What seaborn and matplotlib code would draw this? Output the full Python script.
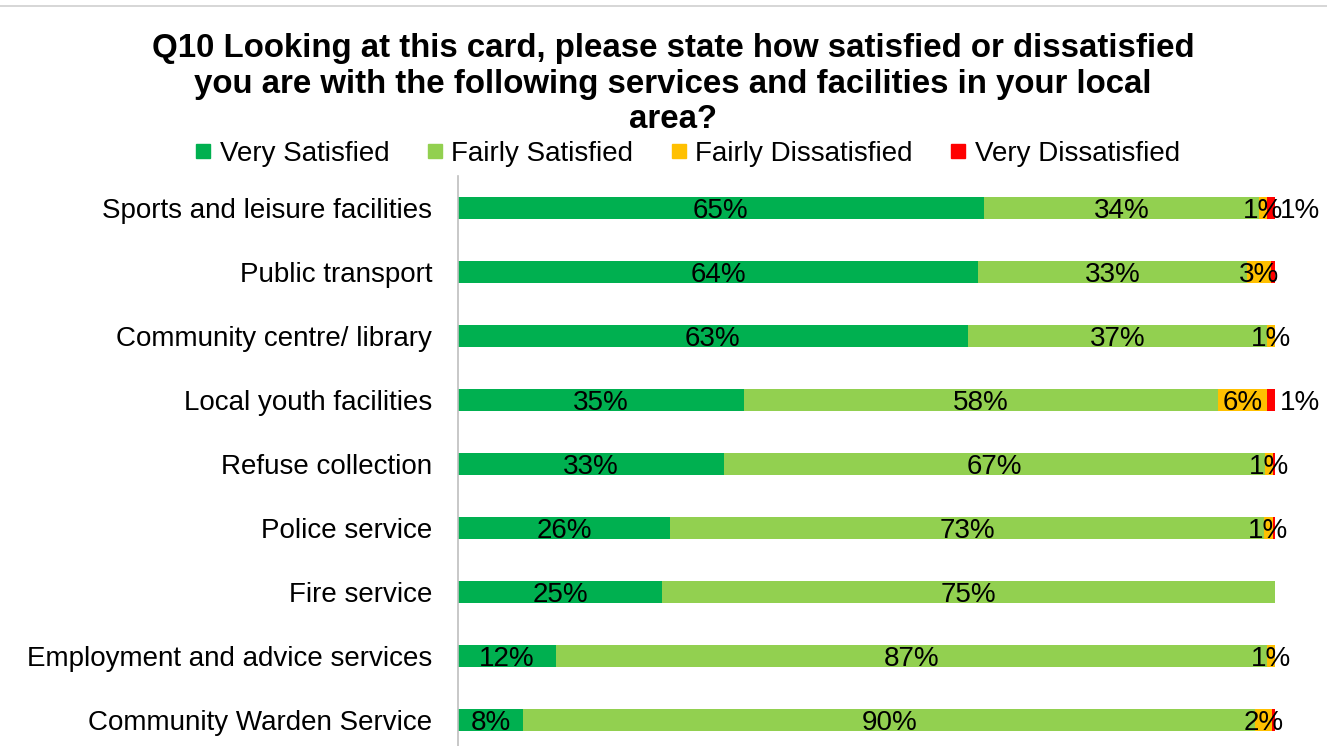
import numpy as np
import pandas as pd
import matplotlib
matplotlib.use("Agg")
import matplotlib.pyplot as plt
import seaborn as sns
from matplotlib.lines import Line2D

categories = [
    "Sports and leisure facilities",
    "Public transport",
    "Community centre/ library",
    "Local youth facilities",
    "Refuse collection",
    "Police service",
    "Fire service",
    "Employment and advice services",
    "Community Warden Service",
]
very_satisfied = [65, 64, 63, 35, 33, 26, 25, 12, 8]
fairly_satisfied = [34, 33, 37, 58, 67, 73, 75, 87, 90]
fairly_dissatisfied = [1, 3, 1, 6, 1, 1, 0, 1, 2]
very_dissatisfied = [1, 0.5, 0, 1, 0.3, 0.3, 0, 0, 0.4]

series_names = ["Very Satisfied", "Fairly Satisfied", "Fairly Dissatisfied", "Very Dissatisfied"]
colors = ["#00B050", "#92D050", "#FFC000", "#FF0000"]

sns.set_theme(style="white")
plt.rcParams["font.family"] = ["Liberation Sans", "DejaVu Sans"]
plt.rcParams["text.color"] = "black"
plt.rcParams["ytick.color"] = "black"

vals = np.array([very_satisfied, fairly_satisfied, fairly_dissatisfied, very_dissatisfied], dtype=float)
totals = vals.sum(axis=0)
shares = vals / totals * 100
cum = np.cumsum(shares, axis=0)

fig = plt.figure(figsize=(13.27, 7.46), dpi=100)
ax = fig.add_axes([458 / 1327, 1 - 752 / 746, (1275 - 458) / 1327, 576 / 746])

for i in range(3, -1, -1):
    df = pd.DataFrame({"cat": categories, "val": cum[i]})
    sns.barplot(data=df, x="val", y="cat", orient="h", color=colors[i],
                saturation=1, width=0.34, ax=ax, order=categories, linewidth=0)

ax.set_xlim(0, 100)
ax.set_ylim(8.5, -0.5)
ax.set_xlabel("")
ax.set_ylabel("")
ax.set_xticks([])
ax.tick_params(axis="y", length=0, pad=18.5, labelsize=20, labelcolor="black")
for s in ["top", "right", "bottom"]:
    ax.spines[s].set_visible(False)
ax.spines["left"].set_color("#BFBFBF")
ax.spines["left"].set_linewidth(1.2)

fs = 20
for j in range(len(categories)):
    starts = np.concatenate([[0], cum[:-1, j]])
    for i in range(4):
        v = vals[i, j]
        if v < 1:
            continue
        label = f"{int(round(v))}%"
        if i == 3:
            ax.text(cum[3, j] + 0.6, j, label, ha="left", va="center_baseline",
                    fontsize=fs, color="black")
        else:
            ax.text(starts[i] + shares[i, j] / 2, j, label, ha="center", va="center_baseline",
                    fontsize=fs, color="black")

fig.text(673 / 1327, 1 - 84 / 746,
         "Q10 Looking at this card, please state how satisfied or dissatisfied\n"
         "you are with the following services and facilities in your local\narea?",
         ha="center", va="center", fontsize=23.8, fontweight="bold", linespacing=1.2,
         color="black")

handles = [Line2D([0], [0], marker="s", linestyle="none", markersize=10,
                  markerfacecolor=c, markeredgecolor=c) for c in colors]
fig.legend(handles, series_names, loc="center", bbox_to_anchor=(686 / 1327, 1 - 154 / 746),
           ncol=4, frameon=False, fontsize=20, handletextpad=0.2, columnspacing=1.23,
           handlelength=0.8, labelcolor="black")

fig.add_artist(Line2D([0, 1], [1 - 6 / 746, 1 - 6 / 746], color="#D0D0D0", lw=1.2,
                      transform=fig.transFigure))

fig.savefig("out.png", dpi=100)
